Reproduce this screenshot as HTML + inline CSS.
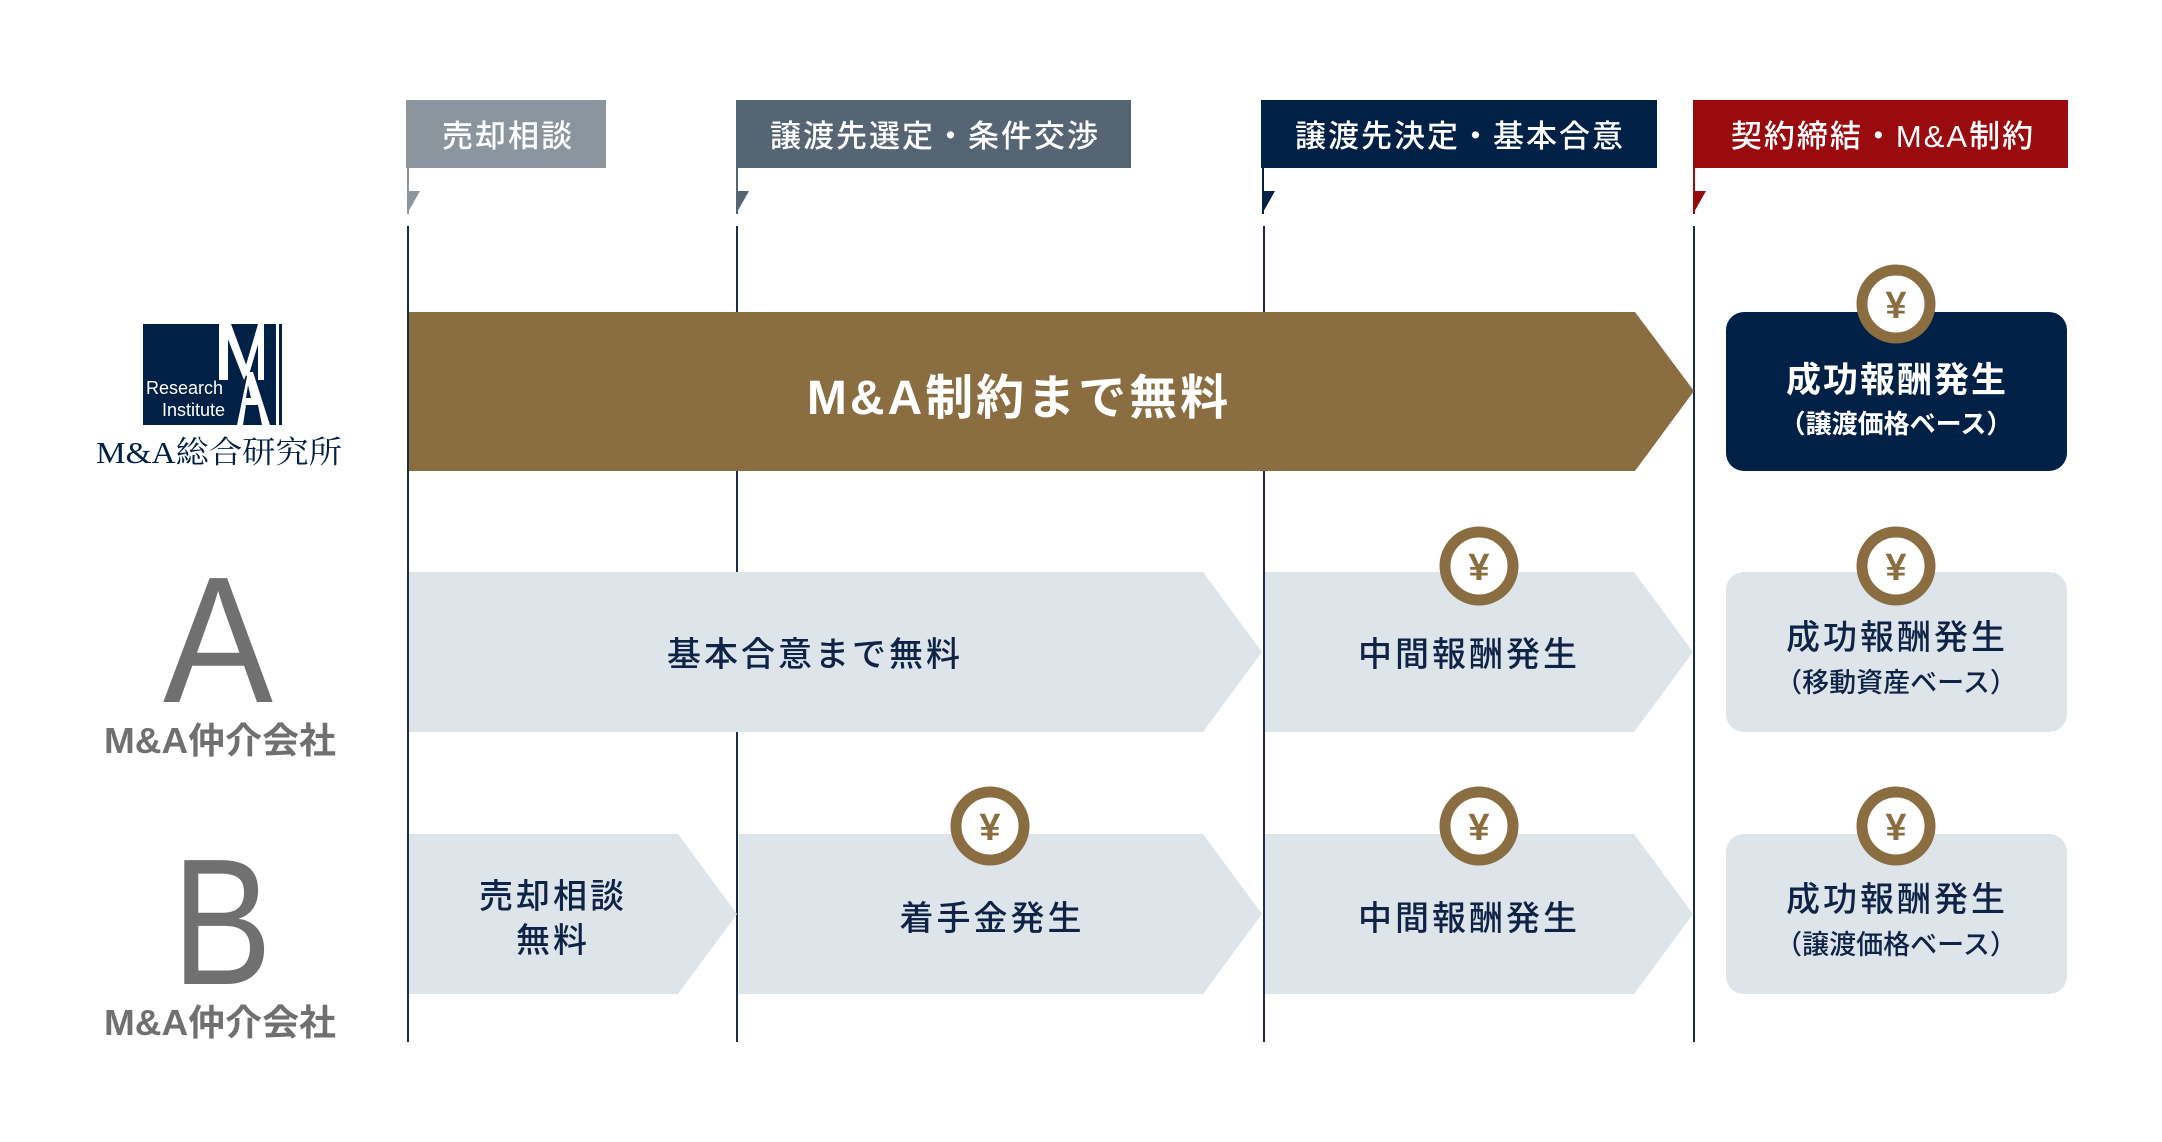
<!DOCTYPE html>
<html><head><meta charset="utf-8"><style>
html,body{margin:0;padding:0;background:#fff;}
svg{display:block;}
text{font-family:"Liberation Sans","Noto Sans CJK JP",sans-serif;}
</style></head><body>
<svg width="2162" height="1142" viewBox="0 0 2162 1142" xmlns="http://www.w3.org/2000/svg">
<!-- headers -->
<rect x="406" y="100" width="200" height="68" fill="#8a959e"/>
<rect x="736" y="100" width="395" height="68" fill="#566574"/>
<rect x="1261" y="100" width="396" height="68" fill="#012046"/>
<rect x="1693" y="100" width="375" height="68" fill="#990b0e"/>
<g font-size="31" font-weight="500" fill="#fff" text-anchor="middle" letter-spacing="2">
<text x="508" y="147">売却相談</text>
<text x="935" y="147">譲渡先選定・条件交渉</text>
<text x="1460" y="147">譲渡先決定・基本合意</text>
<text x="1883" y="147">契約締結・M&amp;A制約</text>
</g>
<!-- flags -->
<g>
<rect x="407" y="168" width="2" height="46" fill="#8a959e"/><polygon points="407,191 420,191 407,214" fill="#8a959e"/>
<rect x="736" y="168" width="2" height="46" fill="#566574"/><polygon points="736,191 749,191 736,214" fill="#566574"/>
<rect x="1262" y="168" width="2" height="46" fill="#012046"/><polygon points="1262,191 1275,191 1262,214" fill="#012046"/>
<rect x="1693" y="168" width="2" height="46" fill="#990b0e"/><polygon points="1693,191 1706,191 1693,214" fill="#990b0e"/>
</g>
<!-- vertical lines -->
<g fill="#1a2b4c">
<rect x="407" y="226" width="2" height="816"/>
<rect x="736" y="226" width="2" height="816"/>
<rect x="1263" y="226" width="2" height="816"/>
<rect x="1693" y="226" width="2" height="816"/>
</g>
<!-- brown arrow -->
<polygon points="409,312 1635,312 1694,391 1635,471 409,471" fill="#8a6d41"/>
<text x="1019" y="414" font-size="48" font-weight="700" fill="#fff" text-anchor="middle" letter-spacing="3">M&amp;A制約まで無料</text>
<!-- dark box -->
<rect x="1726" y="312" width="341" height="159" rx="18" fill="#012046"/>
<text x="1897" y="392" font-size="35" font-weight="700" fill="#fff" text-anchor="middle" letter-spacing="2">成功報酬発生</text>
<text x="1896" y="433" font-size="26" font-weight="700" fill="#fff" text-anchor="middle">（譲渡価格ベース）</text>
<!-- rows -->
<g fill="#dde5ea">
<polygon points="409,572 1203,572 1262,652 1203,732 409,732"/>
<polygon points="1265,572 1634,572 1693,652 1634,732 1265,732"/>
<rect x="1726" y="572" width="341" height="160" rx="18"/>
<polygon points="409,834 678,834 737,914 678,994 409,994"/>
<polygon points="739,834 1203,834 1262,914 1203,994 739,994"/>
<polygon points="1265,834 1634,834 1693,914 1634,994 1265,994"/>
<rect x="1726" y="834" width="341" height="160" rx="18"/>
</g>
<g font-size="34" font-weight="500" fill="#0f2346" text-anchor="middle" letter-spacing="3">
<text x="815" y="666">基本合意まで無料</text>
<text x="1469" y="666">中間報酬発生</text>
<text x="1897" y="649">成功報酬発生</text>
<text x="553" y="908">売却相談</text>
<text x="553" y="952">無料</text>
<text x="992" y="930">着手金発生</text>
<text x="1469" y="930">中間報酬発生</text>
<text x="1897" y="911">成功報酬発生</text>
</g>
<g font-size="27" font-weight="500" fill="#0f2346" text-anchor="middle">
<text x="1896" y="692">（移動資産ベース）</text>
<text x="1896" y="954">（譲渡価格ベース）</text>
</g>
<!-- coins -->
<g fill="#fff" stroke="#8a6d41" stroke-width="11">
<circle cx="1896" cy="304" r="34"/>
<circle cx="1479" cy="566" r="34"/>
<circle cx="1896" cy="566" r="34"/>
<circle cx="990" cy="826" r="34"/>
<circle cx="1479" cy="826" r="34"/>
<circle cx="1896" cy="826" r="34"/>
</g>
<g font-size="38" font-weight="700" fill="#8a6d41" text-anchor="middle" style="font-family:'Noto Sans CJK JP',sans-serif">
<text x="1896" y="318">¥</text>
<text x="1479" y="580">¥</text>
<text x="1896" y="580">¥</text>
<text x="990" y="840">¥</text>
<text x="1479" y="840">¥</text>
<text x="1896" y="840">¥</text>
</g>
<!-- logo -->
<rect x="143" y="324" width="139" height="101" fill="#012046"/>
<g fill="#fff">
<rect x="219" y="324" width="9" height="56"/>
<polygon points="222,324 231,324 248,370 244,380"/>
<polygon points="258,324 264,324 248,378 244,372"/>
<rect x="258" y="324" width="6" height="56"/>
<polygon points="248,372 253,372 270,425 262,425 258,405 246,405 243,425 237,425"/>
<rect x="276" y="324" width="3" height="101"/>
</g>
<polygon points="248,385 251,398 246,398" fill="#012046"/>
<text x="146" y="394" font-size="18" fill="#fff">Research</text>
<text x="162" y="416" font-size="18" fill="#fff">Institute</text>
<text x="96" y="463" font-size="31" fill="#012046" textLength="246" lengthAdjust="spacingAndGlyphs" style="font-family:'Liberation Serif','Noto Serif CJK SC',serif">M&amp;A総合研究所</text>
<!-- A / B -->
<text x="218" y="702" font-size="180" fill="#707070" text-anchor="middle" textLength="110" lengthAdjust="spacingAndGlyphs">A</text>
<text x="104" y="753" font-size="36" font-weight="700" fill="#707070" textLength="232" lengthAdjust="spacingAndGlyphs">M&amp;A仲介会社</text>
<text x="222" y="984" font-size="180" fill="#707070" text-anchor="middle" textLength="100" lengthAdjust="spacingAndGlyphs">B</text>
<text x="104" y="1035" font-size="36" font-weight="700" fill="#707070" textLength="232" lengthAdjust="spacingAndGlyphs">M&amp;A仲介会社</text>
</svg>
</body></html>
